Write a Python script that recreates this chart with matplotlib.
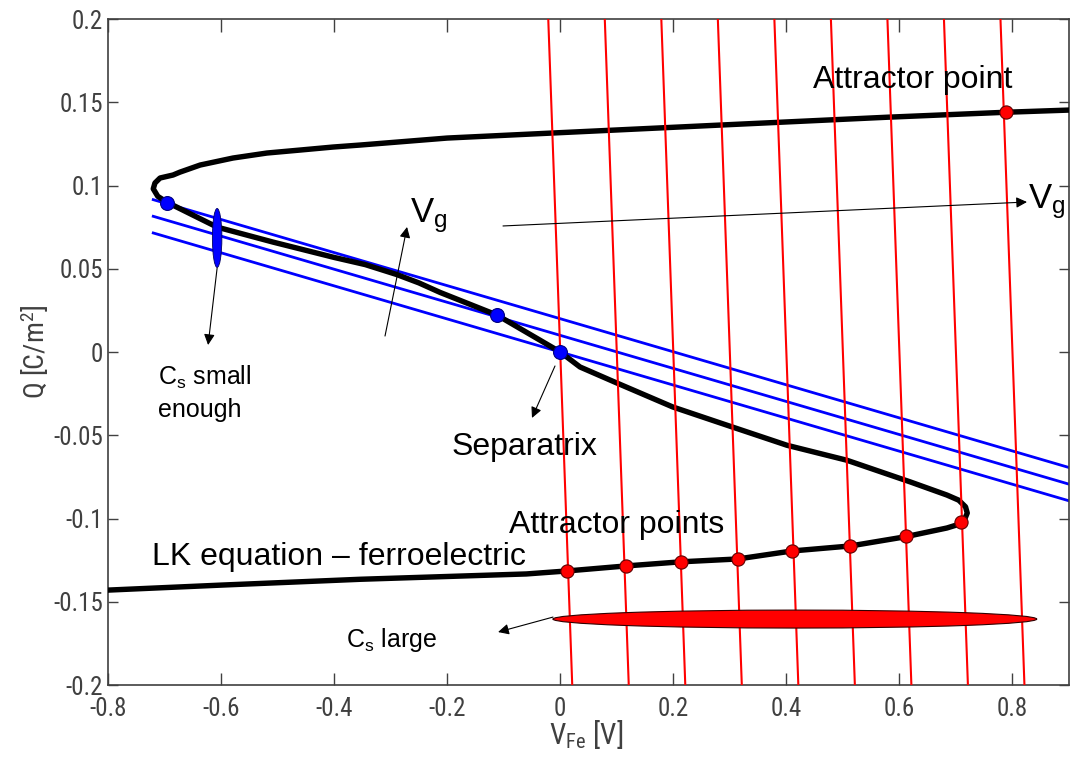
import matplotlib
matplotlib.use("Agg")
import matplotlib.pyplot as plt
from matplotlib import font_manager
from matplotlib.patches import Ellipse
import numpy as np

plt.rcParams["axes.unicode_minus"] = False
plt.rcParams["mathtext.fontset"] = "custom"
plt.rcParams["mathtext.rm"] = "Liberation Sans"
plt.rcParams["mathtext.it"] = "Liberation Sans:italic"
plt.rcParams["mathtext.default"] = "regular"

# Landau-Khalatnikov S-curve, traced from the lower-left branch to the upper-right branch
lk_v = [-0.80, -0.60, -0.354, -0.06, 0.012, 0.116, 0.214, 0.314, 0.41, 0.513, 0.61,
        0.684, 0.705, 0.716, 0.720, 0.717, 0.705, 0.684, 0.619, 0.507, 0.401, 0.283,
        0.199, 0.10, 0.035, 0.0, -0.112, -0.2127, -0.25, -0.289, -0.345, -0.40, -0.508,
        -0.607, -0.696, -0.712, -0.720, -0.717, -0.708, -0.685, -0.673, -0.637, -0.579,
        -0.519, -0.46, -0.402, -0.354, -0.20, -0.015, 0.283, 0.578, 0.789, 0.90]
lk_q = [-0.143, -0.140, -0.1365, -0.1333, -0.1315, -0.1285, -0.126, -0.1243, -0.1195,
        -0.1165, -0.111, -0.1057, -0.1035, -0.100, -0.0967, -0.093, -0.089, -0.0859,
        -0.078, -0.065, -0.056, -0.0426, -0.033, -0.0186, -0.009, 0.0, 0.0222, 0.0358,
        0.0415, 0.0465, 0.0525, 0.0568, 0.066, 0.075, 0.090, 0.0935, 0.0980, 0.1015,
        0.1045, 0.1063, 0.108, 0.1123, 0.1165, 0.1195, 0.1213, 0.1231, 0.1243, 0.1285,
        0.1315, 0.1363, 0.141, 0.144, 0.1453]

# Load lines for a large series capacitance: V_Fe at Q = 0 and dV/dQ
red_v0 = [0.0, 0.1, 0.2, 0.3, 0.4, 0.5, 0.6, 0.7, 0.8]
red_dv_dq = -0.106

# Load lines for a small series capacitance: Q at V_Fe = 0 and dQ/dV
blue_q0 = [0.02, 0.01, 0.0]
blue_dq_dv = -0.0993
blue_v_span = [-0.72, 0.90]

# Stable operating points (red) and intersections with small-Cs lines (blue)
attr_v = [0.012, 0.116, 0.214, 0.314, 0.41, 0.513, 0.612, 0.709, 0.789]
attr_q = [-0.1315, -0.1285, -0.126, -0.1243, -0.1195, -0.1165, -0.1105, -0.102, 0.144]
blue_pt_v = [-0.696, -0.112, 0.0]
blue_pt_q = [0.0895, 0.0222, 0.0]

x_ticks = [-0.8, -0.6, -0.4, -0.2, 0.0, 0.2, 0.4, 0.6, 0.8]
x_ticklabels = ["-0.8", "-0.6", "-0.4", "-0.2", "0", "0.2", "0.4", "0.6", "0.8"]
y_ticks = [-0.2, -0.15, -0.1, -0.05, 0.0, 0.05, 0.1, 0.15, 0.2]
y_ticklabels = ["-0.2", "-0.15", "-0.1", "-0.05", "0", "0.05", "0.1", "0.15", "0.2"]


def narrow_font():
    """Pick a condensed sans face for the axis numbers, if one is installed."""
    fonts = font_manager.fontManager.ttflist
    names = {f.name for f in fonts}
    for n in ["Liberation Sans Narrow", "Arial Narrow", "Nimbus Sans Narrow",
              "Roboto Condensed", "Open Sans Condensed", "Noto Sans Condensed",
              "DejaVu Sans Condensed", "Noto Sans Display Condensed"]:
        if n in names:
            return {"family": [n, "Liberation Sans"]}, 18
    for f in fonts:
        st = str(f.stretch)
        if "condensed" in st and "extra" not in st and "ultra" not in st and \
                f.name in ("Liberation Sans", "Noto Sans", "Roboto", "Open Sans",
                           "Inter", "Lato", "DejaVu Sans"):
            return {"family": [f.name], "stretch": st}, 18
    return {"family": ["Liberation Sans", "DejaVu Sans"]}, 16.5


tick_props, tick_size = narrow_font()
text_font = ["Liberation Sans", "DejaVu Sans"]
axis_gray = "#404040"

fig = plt.figure(figsize=(10.75, 7.57), dpi=100)
ax = fig.add_axes([0.1005, 0.0951, 0.8939, 0.8798])

# small-Cs load lines
v_span = np.array(blue_v_span)
for q0 in blue_q0:
    ax.plot(v_span, q0 + blue_dq_dv * v_span, color="#0000ff", lw=2.0, zorder=2)

# LK curve
ax.plot(lk_v, lk_q, color="black", lw=3.9, solid_joinstyle="round",
        solid_capstyle="round", zorder=3)

# large-Cs load lines
q_span = np.array([-0.2, 0.2])
for v0 in red_v0:
    ax.plot(v0 + red_dv_dq * q_span, q_span, color="#ff0000", lw=1.5, zorder=4)

ax.plot(attr_v, attr_q, "o", ms=9.5, mfc="#ff0000", mec="#600000", mew=0.8, zorder=6)
ax.plot(blue_pt_v, blue_pt_q, "o", ms=10, mfc="#0000ff", mec="#000080", mew=0.8, zorder=6)

# capacitance markers
ax.add_patch(Ellipse((-0.607, 0.0685), 0.0168, 0.0354, facecolor="#0000ff",
                     edgecolor="#000060", lw=0.6, zorder=7))
ax.add_patch(Ellipse((0.415, -0.1604), 0.856, 0.0108, facecolor="#ff0000",
                     edgecolor="#300000", lw=0.8, zorder=7))

arrow_kw = dict(arrowstyle="-|>", color="black", lw=0.8, mutation_scale=16,
                shrinkA=0, shrinkB=0)
ax.annotate("", xy=(-0.271, 0.0751), xytext=(-0.31, 0.0096), arrowprops=arrow_kw, zorder=8)
ax.annotate("", xy=(0.8257, 0.0901), xytext=(-0.1013, 0.0757), arrowprops=arrow_kw, zorder=8)
ax.annotate("", xy=(-0.623, 0.0042), xytext=(-0.607, 0.0505), arrowprops=arrow_kw, zorder=8)
ax.annotate("", xy=(-0.05, -0.0396), xytext=(-0.0093, -0.0084), arrowprops=arrow_kw, zorder=8)
ax.annotate("", xy=(-0.110, -0.1682), xytext=(-0.0128, -0.1592), arrowprops=arrow_kw, zorder=8)

big = 23
small = 18
ax.text(0.447, 0.1586, "Attractor point", fontsize=big, family=text_font,
        ha="left", va="baseline", zorder=9)
ax.text(-0.0907, -0.1087, "Attractor points", fontsize=big, family=text_font,
        ha="left", va="baseline", zorder=9)
ax.text(-0.722, -0.128, "LK equation \u2013 ferroelectric", fontsize=big, family=text_font,
        ha="left", va="baseline", zorder=9)
ax.text(-0.1915, -0.0619, "Separatrix", fontsize=big, family=text_font,
        ha="left", va="baseline", zorder=9)
ax.text(-0.266, 0.0781, "V$_g$", fontsize=big + 2, family=text_font,
        ha="left", va="baseline", zorder=9)
ax.text(0.8275, 0.0865, "V$_g$", fontsize=big + 2, family=text_font,
        ha="left", va="baseline", zorder=9)
ax.text(-0.7116, -0.0198, "C$_s$ small", fontsize=small, family=text_font,
        ha="left", va="baseline", zorder=9)
ax.text(-0.7116, -0.039, "enough", fontsize=small, family=text_font,
        ha="left", va="baseline", zorder=9)
ax.text(-0.379, -0.177, "C$_s$ large", fontsize=small, family=text_font,
        ha="left", va="baseline", zorder=9)

ax.set_xlim(-0.8, 0.9)
ax.set_ylim(-0.2, 0.2)
ax.set_xticks(x_ticks)
ax.set_xticklabels(x_ticklabels)
ax.set_yticks(y_ticks)
ax.set_yticklabels(y_ticklabels)
ax.tick_params(axis="x", direction="in", length=9, width=1.0, pad=8.5,
               top=True, colors=axis_gray, labelsize=tick_size)
ax.tick_params(axis="y", direction="in", length=7, width=1.0, pad=3.5,
               right=True, colors=axis_gray, labelsize=tick_size)
for lab in ax.get_xticklabels() + ax.get_yticklabels():
    lab.set_fontproperties(font_manager.FontProperties(size=tick_size, **tick_props))
for sp in ax.spines.values():
    sp.set_color(axis_gray)
    sp.set_linewidth(1.2)

xl = ax.set_xlabel("V$_{Fe}$ [V]", color=axis_gray,
                   fontproperties=font_manager.FontProperties(size=21, **tick_props))
yl = ax.set_ylabel("Q [C/m$^2$]", color=axis_gray,
                   fontproperties=font_manager.FontProperties(size=20, **tick_props))
xl.set_va("center")
yl.set_va("center")
ax.xaxis.set_label_coords(0.498, -0.075)
ax.yaxis.set_label_coords(-0.076, 0.5)

fig.savefig("out.png", dpi=100)
